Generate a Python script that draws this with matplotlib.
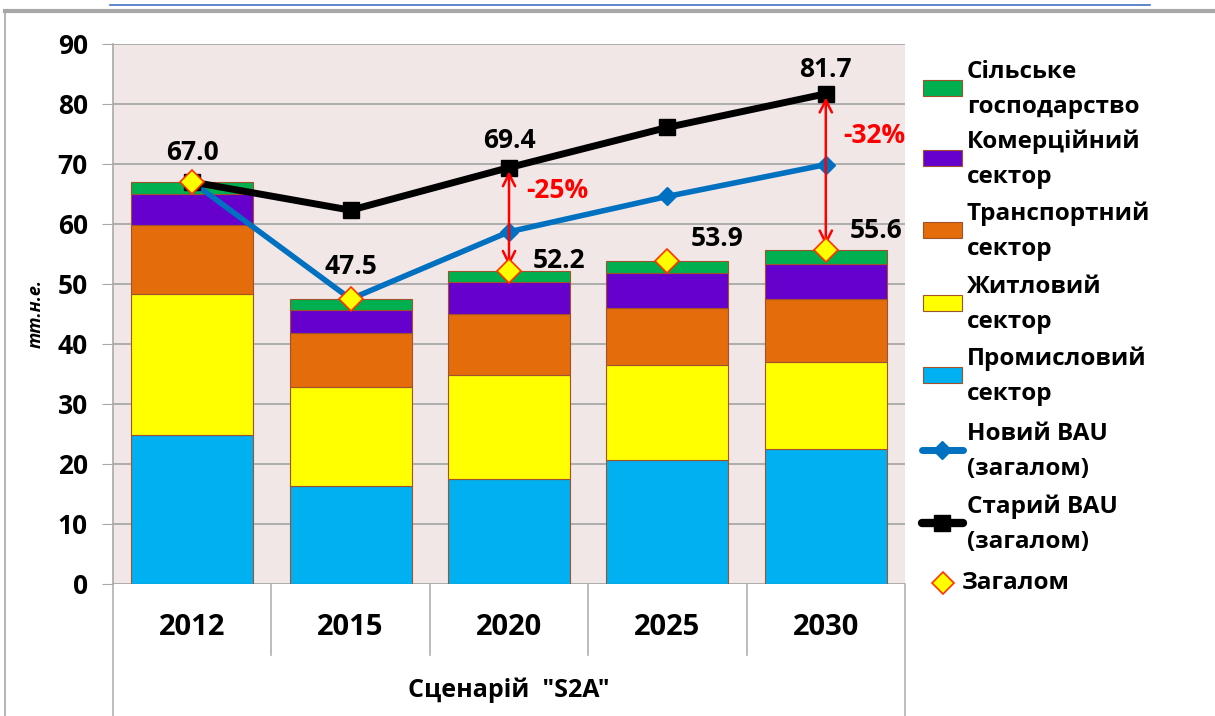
import matplotlib.pyplot as plt
import numpy as np
from matplotlib.lines import Line2D
from matplotlib.patches import Rectangle

plt.rcParams["font.family"] = ["Open Sans", "DejaVu Sans"]
plt.rcParams["font.weight"] = "bold"

years = ["2012", "2015", "2020", "2025", "2030"]
industry = [24.9, 16.4, 17.5, 20.6, 22.5]
residential = [23.5, 16.4, 17.4, 15.9, 14.5]
transport = [11.5, 9.1, 10.1, 9.5, 10.5]
commercial = [5.1, 3.8, 5.3, 5.8, 5.8]
agriculture = [2.0, 1.8, 1.9, 2.1, 2.3]
total = [67.0, 47.5, 52.2, 53.9, 55.6]
new_bau = [67.0, 47.5, 58.7, 64.6, 69.9]
old_bau = [67.0, 62.3, 69.4, 76.1, 81.7]

series = [
    ("Промисловий\nсектор", industry, "#00B0F0"),
    ("Житловий\nсектор", residential, "#FFFF00"),
    ("Транспортний\nсектор", transport, "#E46C0A"),
    ("Комерційний\nсектор", commercial, "#6600CC"),
    ("Сільське\nгосподарство", agriculture, "#00B050"),
]

W, H = 1215, 716
fig = plt.figure(figsize=(W / 100, H / 100), dpi=100)


def fx(px):
    return px / W


def fy(py):
    return 1 - py / H


ax = fig.add_axes([fx(113), fy(584), fx(905) - fx(113), fy(44) - fy(584)])
ax.set_facecolor("#F2E7E7")

x = np.arange(len(years))
bottom = np.zeros(len(years))
for name, vals, color in series:
    ax.bar(x, vals, 0.77, bottom=bottom, color=color, edgecolor="#A0522D",
           linewidth=0.8, zorder=2)
    bottom += np.array(vals)

ax.plot(x, new_bau, color="#0070C0", lw=4, marker="D", ms=9, zorder=3)
ax.plot(x, old_bau, color="black", lw=5, marker="s", ms=11, zorder=4)
ax.plot(x, total, ls="none", marker="D", ms=12, mfc="#FFFF00", mec="#FF3300",
        mew=1.2, zorder=6)

# reduction arrows between old BAU and scenario totals
for i, pct, ty in [(2, "-25%", 65.5), (4, "-32%", 74.8)]:
    ax.annotate("", xy=(i, total[i] + 0.8), xytext=(i, old_bau[i] - 0.6),
                arrowprops=dict(arrowstyle="<->", color="red", lw=1.8,
                                mutation_scale=22, shrinkA=0, shrinkB=0),
                zorder=5)
    ax.text(i + 0.11, ty, pct, color="red", fontsize=19, fontweight="bold",
            ha="left", va="center", zorder=7)

lab = dict(fontsize=19, fontweight="bold", zorder=7)
ax.text(0, 72.0, f"{total[0]:.1f}", ha="center", va="center", **lab)
ax.text(1, 53.0, f"{total[1]:.1f}", ha="center", va="center", **lab)
ax.text(2, 74.0, f"{old_bau[2]:.1f}", ha="center", va="center", **lab)
ax.text(4, 85.8, f"{old_bau[4]:.1f}", ha="center", va="center", **lab)
ax.text(2.15, total[2] + 1.8, f"{total[2]:.1f}", ha="left", va="center", **lab)
ax.text(3.15, total[3] + 3.6, f"{total[3]:.1f}", ha="left", va="center", **lab)
ax.text(4.15, total[4] + 3.3, f"{total[4]:.1f}", ha="left", va="center", **lab)

ax.set_xlim(-0.5, 4.5)
ax.set_ylim(0, 90)
ax.set_yticks(range(0, 91, 10))
ax.yaxis.grid(True, color="#A8A8A8", lw=1.3, zorder=0)
ax.set_axisbelow(True)
ax.tick_params(axis="y", length=8, color="#A8A8A8", labelsize=19, pad=10)
ax.tick_params(axis="x", length=0, labelbottom=False)
for lbl in ax.get_yticklabels():
    lbl.set_fontweight("bold")
for s in ["top", "right", "bottom"]:
    ax.spines[s].set_visible(False)
ax.spines["left"].set_color("#A8A8A8")
ax.spines["left"].set_linewidth(1.2)

ax.text(-0.098, 0.5, "тт.н.е.", transform=ax.transAxes, rotation=90,
        fontsize=13, fontstyle="italic", fontweight="bold", ha="center",
        va="center")

# category box under the plot
tr = ax.get_xaxis_transform()
for k, b in enumerate(np.arange(-0.5, 5.0, 1.0)):
    low = -0.244 if k in (0, 5) else -0.131
    ax.plot([b, b], [0, low], transform=tr, color="#B0B0B0", lw=1.2,
            clip_on=False)
for i, yr in enumerate(years):
    ax.text(i, -0.081, yr, transform=tr, ha="center", va="center",
            fontsize=21, fontweight="bold")
ax.text(2, -0.196, 'Сценарій  "S2A"', transform=tr, ha="center",
        va="center", fontsize=18, fontweight="bold")

# legend drawn by hand
leg_font = dict(fontsize=17.5, fontweight="bold", ha="left", va="center")
entries = [
    ("#00B050", ["Сільське", "господарство"], 88),
    ("#6600CC", ["Комерційний", "сектор"], 158),
    ("#E46C0A", ["Транспортний", "сектор"], 230),
    ("#FFFF00", ["Житловий", "сектор"], 303),
    ("#00B0F0", ["Промисловий", "сектор"], 375),
]
for color, lines, cy in entries:
    fig.add_artist(Rectangle((fx(923), fy(cy + 8)), fx(962) - fx(923),
                             fy(cy - 8) - fy(cy + 8), facecolor=color,
                             edgecolor="#A0522D", lw=0.8))
    fig.text(fx(967), fy(cy - 16), lines[0], **leg_font)
    fig.text(fx(967), fy(cy + 19), lines[1], **leg_font)

for color, mk, ms, lw, lines, cy in [
    ("#0070C0", "D", 9, 5, ["Новий BAU", "(загалом)"], 450),
    ("black", "s", 11, 6, ["Старий BAU", "(загалом)"], 523),
]:
    fig.add_artist(Line2D([fx(922), fx(963)], [fy(cy), fy(cy)], color=color,
                          lw=lw, solid_capstyle="round"))
    fig.add_artist(Line2D([fx(942)], [fy(cy)], marker=mk, ms=ms, color=color))
    fig.text(fx(967), fy(cy - 16), lines[0], **leg_font)
    fig.text(fx(967), fy(cy + 19), lines[1], **leg_font)

fig.add_artist(Line2D([fx(943)], [fy(583)], marker="D", ms=11, ls="none",
                      mfc="#FFFF00", mec="#FF3300", mew=1.2))
fig.text(fx(962), fy(583), "Загалом", **leg_font)

# page frame
fig.add_artist(Line2D([fx(110), fx(1150)], [fy(5), fy(5)], color="#4472C4",
                      lw=1.2))
fig.add_artist(Line2D([fx(5), fx(1215)], [fy(11), fy(11)], color="#A8A8A8",
                      lw=3))
fig.add_artist(Line2D([fx(5), fx(5)], [fy(11), fy(716)], color="#A8A8A8",
                      lw=1.2))

fig.savefig("out.png", dpi=100)
